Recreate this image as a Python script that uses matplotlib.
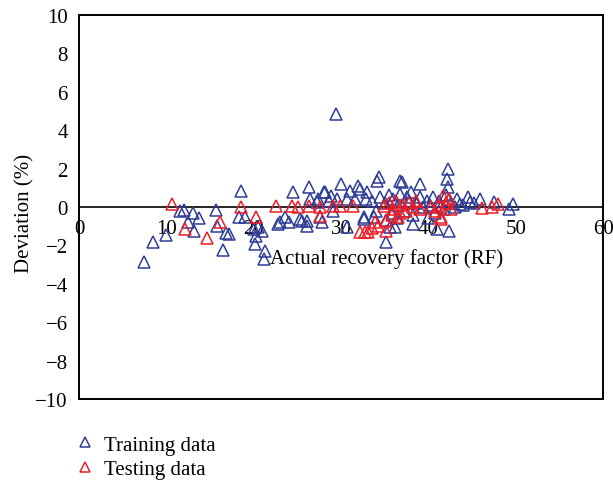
import matplotlib
matplotlib.use("Agg")
import matplotlib.pyplot as plt
from matplotlib.patches import Rectangle
from matplotlib.lines import Line2D

# ---- data ----
train_x = [7.4, 8.5, 10.0, 11.6, 12.0, 12.5, 13.0, 13.2, 13.7, 15.7, 15.8, 16.5, 16.8,
           17.2, 18.6, 18.3, 19.0, 20.0, 20.3, 20.2, 21.0, 21.3, 21.2, 20.5, 22.8, 23.0,
           23.6, 24.0, 24.5, 25.3, 25.5, 26.1, 26.1, 26.3, 26.5, 27.2, 27.4, 27.6, 28.0,
           27.8, 28.2, 28.6, 28.9, 29.1, 29.4, 29.5, 30.0, 30.7, 30.7, 31.0, 32.0, 32.2,
           31.6, 32.9, 32.6, 32.6, 34.1, 34.3, 35.2, 35.6, 36.2, 36.8, 37.0, 39.1,
           33.0, 33.5, 33.8, 34.0, 34.5, 35.0, 35.2, 35.5, 35.8, 36.0, 36.4, 36.5, 36.8,
           37.2, 37.5, 37.8, 38.0, 38.2, 38.3, 38.6, 39.0, 39.4, 39.8, 40.0, 40.2, 40.5,
           40.8, 41.0, 41.2, 41.5, 41.8, 42.0, 42.1, 42.3, 42.3, 42.4, 42.6, 43.0, 43.3,
           43.6, 44.0, 44.5, 44.8, 45.2, 45.9, 47.5, 49.2, 49.7]
train_y = [-2.87, -1.84, -1.46, -0.19, -0.16, -0.80, -0.33, -1.27, -0.59, -0.16, -1.0, -2.24, -1.35,
           -1.4, 0.85, -0.54, -0.54, -1.15, -1.5, -1.93, -1.23, -2.27, -2.7, -1.06, -0.88, -0.8,
           -0.54, -0.8, 0.8, -0.62, -0.71, -0.71, -0.97, 1.02, 0.42, 0.24, 0.42, -0.54, 0.76,
           -0.8, 0.76, 0.33, 0.59, -0.19, 4.84, 0.42, 1.2, 0.42, -1.06, 0.85, 1.1, 0.94,
           0.42, 0.42, -0.54, -0.62, 1.37, 1.55, -1.84, -1.06, -1.06, 1.37, 1.28, 1.2,
           0.8, 0.3, -0.5, -0.2, 0.5, 0.2, -0.7, 0.6, -0.3, 0.4, -0.6, 0.1, 0.7,
           -0.2, 0.5, 0.3, 0.8, -0.9, -0.4, 0.2, 0.5, 0.0, 0.3, -0.6, 0.1, 0.5,
           -0.3, -1.15, 0.3, 0.0, -0.1, 0.6, 1.46, 2.0, 1.02, -1.23, 0.2, 0.0, 0.4,
           0.16, 0.1, 0.5, 0.24, 0.2, 0.42, 0.24, -0.1, 0.16]

test_x = [10.6, 12.1, 14.6, 16.2, 18.5, 20.3, 22.6, 24.4, 25.1, 26.3, 27.6, 27.6, 29.1,
          29.9, 31.4, 32.2, 32.8, 33.1, 33.5, 33.9, 34.2, 34.9, 35.1, 35.1, 35.5, 35.8,
          36.0, 36.3, 36.5, 36.7, 37.0, 37.4, 37.8, 38.2, 38.6, 39.0, 40.3, 40.8, 41.2,
          41.4, 41.4, 41.7, 42.0, 42.4, 42.6, 46.1, 47.3, 48.0]
test_y = [0.16, -1.15, -1.6, -0.8, 0.0, -0.5, 0.07, 0.07, 0.0, 0.07, 0.0, -0.45, 0.07,
          0.07, 0.07, -1.32, -1.32, -1.32, -1.1, -0.8, -1.0, 0.07, -0.71, -1.23, 0.2, -0.4,
          -0.1, 0.3, -0.5, -0.3, 0.1, -0.2, 0.2, 0.0, 0.3, -0.1, 0.0, -0.2, 0.1,
          -0.54, -0.62, 0.59, 0.2, 0.42, -0.1, -0.07, 0.0, 0.16]

x_ticks = [0, 10, 20, 30, 40, 50, 60]
y_ticks = [-10, -8, -6, -4, -2, 0, 2, 4, 6, 8, 10]

BLUE = "#2E3D98"
RED = "#EE1C25"

plt.rcParams['font.family'] = ['Liberation Serif', 'DejaVu Serif']
plt.rcParams['font.size'] = 15

fig = plt.figure(figsize=(6.13, 4.85), dpi=100)
ax = fig.add_axes([0.1289, 0.1753, 0.8548, 0.7918])

ax.plot(train_x, train_y, linestyle='none', marker='^', markersize=8.3,
        markerfacecolor='none', markeredgecolor=BLUE, markeredgewidth=1.1,
        label='Training data', zorder=3)
ax.plot(test_x, test_y, linestyle='none', marker='^', markersize=8.3,
        markerfacecolor='none', markeredgecolor=RED, markeredgewidth=1.1,
        label='Testing data', zorder=4)

ax.set_xlim(0, 60)
ax.set_ylim(-10, 10)
ax.set_xticks(x_ticks)
ax.set_yticks(y_ticks)

for s in ['top', 'right', 'left']:
    ax.spines[s].set_visible(False)
ax.spines['bottom'].set_position(('data', 0))
ax.spines['bottom'].set_linewidth(1.2)
ax.spines['bottom'].set_zorder(2)
ax.add_patch(Rectangle((0, 0), 1, 1, transform=ax.transAxes, fill=False,
                       lw=1.4, edgecolor='black', clip_on=False, zorder=2))

ax.tick_params(axis='x', length=0, pad=9)
ax.tick_params(axis='y', length=0, pad=8)

ax.set_xlabel('Actual recovery factor (RF)')
ax.xaxis.set_label_coords(0.586, 0.392)
ax.set_ylabel('Deviation (%)')
ax.yaxis.set_label_coords(-0.085, 0.487)

handles = [Line2D([], [], linestyle='none', marker='^', markersize=6.5,
                  markerfacecolor='none', markeredgecolor=BLUE, markeredgewidth=1.1),
           Line2D([], [], linestyle='none', marker='^', markersize=6.5,
                  markerfacecolor='none', markeredgecolor=RED, markeredgewidth=1.1)]
fig.legend(handles, ['Training data', 'Testing data'], loc='upper left',
           bbox_to_anchor=(75 / 613, 1 - 436 / 485), frameon=False,
           borderpad=0, borderaxespad=0, handlelength=1.0, handletextpad=0.4,
           labelspacing=0.25)

fig.savefig('out.png', dpi=100)
